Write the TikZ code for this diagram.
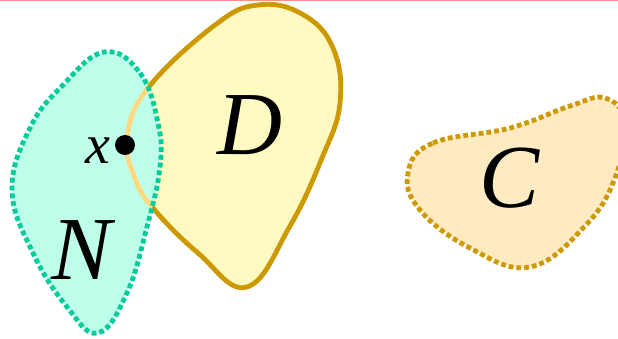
\documentclass[tikz,border=0pt]{standalone}
\usepackage{fontspec}
\setmainfont{Liberation Serif}
\usetikzlibrary{positioning}
\definecolor{dfill}{HTML}{FFF9C2}
\definecolor{goldline}{HTML}{CC9900}
\definecolor{nfill}{HTML}{BDFFEA}
\definecolor{nline}{HTML}{00CC99}
\definecolor{cfill}{HTML}{FFEAC2}
\definecolor{innerline}{HTML}{FFD980}
\newcommand{\pathD}{plot[smooth cycle, tension=0.7] coordinates {(247,51) (290,112) (322,180) (340,235) (333,290) (302,324) (258,333) (215,313) (148,250) (127,200) (135,160) (153,130) (198,85)}}
\newcommand{\pathN}{plot[smooth cycle, tension=0.7] coordinates {(104,286) (140,265) (158,215) (160,171) (147,111) (127,45) (98,5) (67,31) (33,85) (12,148) (30,210) (62,252)}}
\newcommand{\pathC}{plot[smooth cycle, tension=0.7] coordinates {(408,165) (433,195) (510,210) (570,232) (605,240) (625,215) (615,160) (585,112) (530,71) (470,90) (420,128)}}

\begin{document}
\begin{tikzpicture}[x=1pt, y=1pt,
    setline/.style={line width=4.8pt},
    dotline/.style={line width=4.8pt, dash pattern=on 4.8pt off 3pt},
    biglabel/.style={font=\fontsize{90}{90}\selectfont\itshape}]
    \useasboundingbox (0,0) rectangle (618,338);
    \draw[red!45, line width=2pt] (0,338) -- (618,338);

    % set D
    \filldraw[fill=dfill, draw=goldline, setline] \pathD;

    % neighbourhood N, on top of D
    \fill[nfill] \pathN;
    \begin{scope}
        \clip \pathN;
        \draw[innerline, setline] \pathD;
    \end{scope}
    \draw[nline, dotline] \pathN;

    % set C
    \filldraw[fill=cfill, draw=goldline, dotline] \pathC;

    % labels
    \node[biglabel] (labD) at (250,213) {D};
    \node[biglabel] (labN) at (82,88) {N};
    \node[biglabel] (labC) at (510,160) {C};

    % the point x
    \coordinate (ptx) at (125,193);
    \fill (ptx) circle (10);
    \node[font=\fontsize{56}{56}\selectfont\itshape, left=11pt of ptx, yshift=-6pt] (labx) {x};
\end{tikzpicture}
\end{document}
